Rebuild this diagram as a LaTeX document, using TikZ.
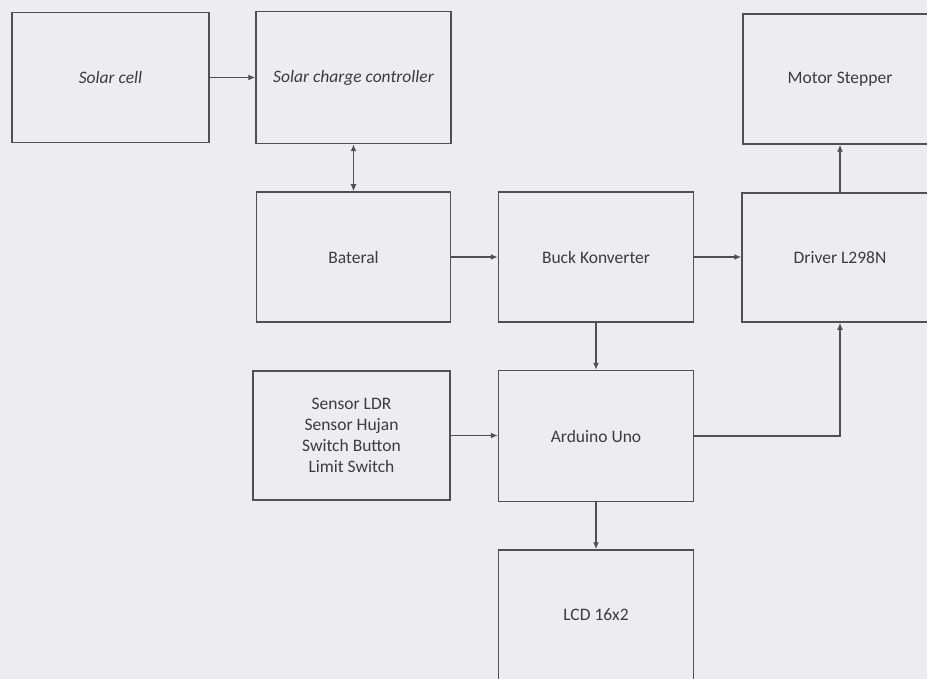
\documentclass[tikz,border=0pt]{standalone}
\usepackage{fontspec}
\setmainfont{Carlito}
\usetikzlibrary{arrows.meta}
\definecolor{bg}{RGB}{236,236,241}
\definecolor{ln}{RGB}{80,80,84}
\definecolor{tx}{RGB}{60,60,64}
\begin{document}
\begin{tikzpicture}[x=1pt,y=-1pt,
  blk/.style={draw=ln,line width=1.5pt,fill=bg,minimum width=195pt,minimum height=130pt,inner sep=0pt,text=tx,font=\fontsize{17.5}{21}\selectfont,align=center},
  conn/.style={draw=ln,line width=1.3pt,-{Latex[length=7pt,width=6pt]}}]
\fill[bg] (0,0) rectangle (927,679);
\useasboundingbox (0,0) rectangle (927,679);
\clip (0,0) rectangle (927,679);
\node[blk,minimum width=197pt] (sc) at (110.5,77.5) {\itshape Solar cell};
\node[blk,minimum height=132pt] (scc) at (353.5,77.5) {\itshape Solar charge controller};
\node[blk,minimum width=194pt] (mot) at (840,79) {Motor Stepper};
\node[blk,minimum width=194pt] (bat) at (353.5,257) {Bateral};
\node[blk] (buck) at (596,257) {Buck Konverter};
\node[blk,minimum width=196pt,minimum height=129pt] (drv) at (840,257.5) {Driver L298N};
\node[blk,minimum width=197pt,minimum height=129pt] (sen) at (351.5,435.5) {Sensor LDR\\Sensor Hujan\\Switch Button\\Limit Switch};
\node[blk,minimum height=131pt] (ard) at (596,436) {Arduino Uno};
\node[blk] (lcd) at (596,615) {LCD 16x2};
\draw[conn] (sc.east) -- (scc.west);
\draw[conn,{Latex[length=7pt,width=6pt]}-{Latex[length=7pt,width=6pt]}] (scc.south) -- (bat.north);
\draw[conn] (bat.east) -- (buck.west);
\draw[conn] (buck.east) -- (buck.east -| drv.west);
\draw[conn] (drv.north) -- (mot.south);
\draw[conn] (buck.south) -- (ard.north);
\draw[conn] (sen.east) -- (sen.east -| ard.west);
\draw[conn] (ard.east) -| (drv.south);
\draw[conn] (ard.south) -- (lcd.north);
\end{tikzpicture}
\end{document}
